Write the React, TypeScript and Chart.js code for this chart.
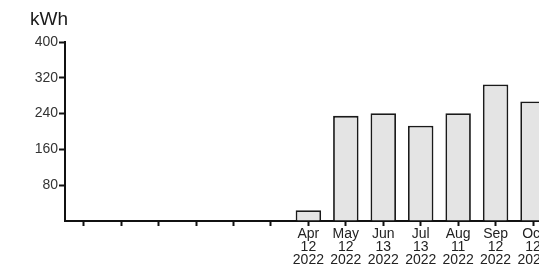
import React, { useEffect, useRef } from "react";
import { Chart, registerables } from "chart.js";

Chart.register(...registerables);

const months = ["", "", "", "", "", "", "Apr", "May", "Jun", "Jul", "Aug", "Sep", "Oct"];
const days = ["", "", "", "", "", "", "12", "12", "13", "13", "11", "12", "12"];
const years = ["", "", "", "", "", "", "2022", "2022", "2022", "2022", "2022", "2022", "2022"];
const usage = [null, null, null, null, null, null, 24, 235, 241, 213, 241, 305, 267];
const yTicks = [0, 80, 160, 240, 320, 400];
const unitLabel = "kWh";

const CANVAS_W = 600;
const CANVAS_H = 267;

const unitPlugin = {
  id: "unitLabel",
  afterDraw(chart: any) {
    const ctx = chart.ctx;
    ctx.save();
    ctx.fillStyle = "#1a1a1a";
    ctx.font = '19px "Liberation Sans", Arial, sans-serif';
    ctx.textBaseline = "alphabetic";
    ctx.textAlign = "left";
    ctx.fillText(unitLabel, 30, 25);
    ctx.restore();
  },
};

export default function App() {
  const ref = useRef<HTMLCanvasElement | null>(null);

  useEffect(() => {
    if (!ref.current) return;
    const labels = months.map((m, i) => (m ? [m, days[i], years[i]] : ""));
    const chart = new Chart(ref.current, {
      type: "bar",
      data: {
        labels,
        datasets: [
          {
            data: usage as any,
            backgroundColor: "#e4e4e4",
            borderColor: "#1a1a1a",
            borderWidth: 1.8,
            barPercentage: 0.68,
            categoryPercentage: 1,
          },
        ],
      },
      options: {
        animation: false,
        responsive: false,
        maintainAspectRatio: false,
        layout: { padding: { top: 42, left: 0, right: CANVAS_W - 551.75, bottom: 0 } },
        plugins: { legend: { display: false }, tooltip: { enabled: false }, title: { display: false } },
        scales: {
          x: {
            grid: {
              offset: false,
              drawOnChartArea: false,
              drawTicks: true,
              tickLength: 5,
              tickWidth: 2,
              tickColor: "#111",
            },
            border: { display: true, color: "#111", width: 2 },
            ticks: {
              autoSkip: false,
              maxRotation: 0,
              minRotation: 0,
              padding: 2,
              color: "#222",
              font: { family: '"Liberation Sans", Arial, sans-serif', size: 14, lineHeight: 0.93 },
            },
            afterFit(scale: any) {
              scale.height = 46;
            },
          },
          y: {
            min: 0,
            max: 400,
            afterBuildTicks(scale: any) {
              scale.ticks = yTicks.map((v) => ({ value: v }));
            },
            grid: {
              drawOnChartArea: false,
              drawTicks: true,
              tickLength: 6,
              tickWidth: 2,
              tickColor: (c: any) => (c.tick && c.tick.value === 0 ? "rgba(0,0,0,0)" : "#111"),
            },
            border: { display: true, color: "#111", width: 2 },
            ticks: {
              padding: 1,
              color: "#333",
              font: { family: '"Liberation Sans", Arial, sans-serif', size: 14 },
              callback: (v: any) => (v === 0 ? "" : String(v)),
            },
            afterFit(scale: any) {
              scale.width = 65;
            },
          },
        },
      },
      plugins: [unitPlugin],
    });
    return () => chart.destroy();
  }, []);

  return (
    <div
      style={{
        position: "absolute",
        left: 0,
        top: 0,
        width: 539,
        height: CANVAS_H,
        overflow: "hidden",
        background: "#fff",
      }}
    >
      <canvas ref={ref} width={CANVAS_W} height={CANVAS_H} style={{ display: "block" }} />
    </div>
  );
}
